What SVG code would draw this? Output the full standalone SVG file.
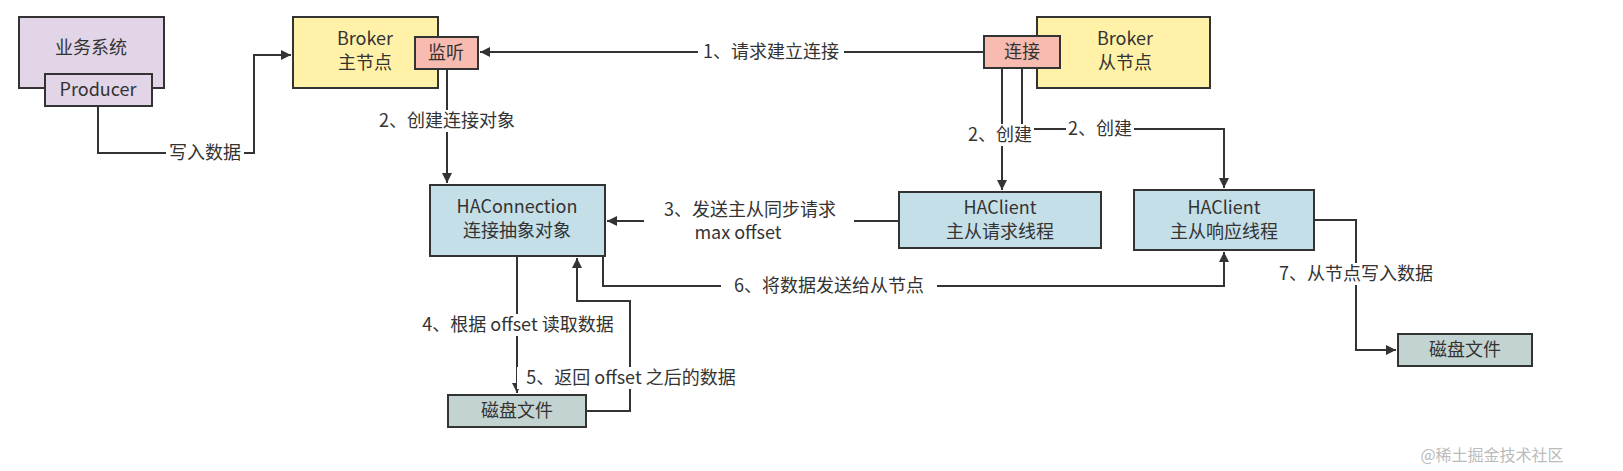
<svg xmlns="http://www.w3.org/2000/svg" width="1623" height="471" viewBox="0 0 1623 471">
<style>
text{font-family:"Noto Sans CJK SC","Noto Sans",sans-serif;font-size:18px;fill:#333;text-anchor:middle}
.n{stroke:#333;stroke-width:2}
.c path{fill:none;stroke:#333;stroke-width:2}
.lb{fill:#fff}
</style>
<defs><marker id="a" viewBox="0 0 10 10" refX="10" refY="5" markerWidth="10" markerHeight="10" markerUnits="userSpaceOnUse" orient="auto"><path d="M0,0L10,5L0,10z" fill="#333"/></marker></defs>
<rect width="1623" height="471" fill="#fff"/>
<g class="c">
<path d="M98,106V153H254V55H291" marker-end="url(#a)"/>
<path d="M984,52H480" marker-end="url(#a)"/>
<path d="M447,69V183" marker-end="url(#a)"/>
<path d="M1002,68V190" marker-end="url(#a)"/>
<path d="M1022,68V129H1224V188" marker-end="url(#a)"/>
<path d="M899,221H607" marker-end="url(#a)"/>
<path d="M517,256V393" marker-end="url(#a)"/>
<path d="M586,411H630V301H577V258" marker-end="url(#a)"/>
<path d="M603,256V286H1224V252" marker-end="url(#a)"/>
<path d="M1314,220H1356V350H1396" marker-end="url(#a)"/>
</g>
<g id="biz"><rect class="n" x="19" y="17" width="145" height="71" fill="#e1d5e7"/><text x="91" y="54">业务系统</text></g>
<g id="producer"><rect class="n" x="45" y="74" width="107" height="32" fill="#e1d5e7"/><text x="98" y="96">Producer</text></g>
<g id="master"><rect class="n" x="293" y="17" width="145" height="71" fill="#fff2a8"/><text x="365" y="45">Broker</text><text x="365" y="69">主节点</text></g>
<g id="listen"><rect class="n" x="415" y="37" width="63" height="32" fill="#f8bbb0"/><text x="446" y="59">监听</text></g>
<g id="slave"><rect class="n" x="1037" y="17" width="173" height="71" fill="#fff2a8"/><text x="1125" y="45">Broker</text><text x="1125" y="69">从节点</text></g>
<g id="connect"><rect class="n" x="984" y="36" width="76" height="32" fill="#f8bbb0"/><text x="1022" y="58">连接</text></g>
<g id="hac"><rect class="n" x="430" y="185" width="175" height="71" fill="#c5dfe8"/><text x="517" y="213">HAConnection</text><text x="517" y="237">连接抽象对象</text></g>
<g id="hc1"><rect class="n" x="899" y="192" width="202" height="56" fill="#c5dfe8"/><text x="1000" y="214">HAClient</text><text x="1000" y="238">主从请求线程</text></g>
<g id="hc2"><rect class="n" x="1134" y="190" width="180" height="60" fill="#c5dfe8"/><text x="1224" y="214">HAClient</text><text x="1224" y="238">主从响应线程</text></g>
<g id="disk1"><rect class="n" x="448" y="395" width="138" height="32" fill="#c3d3d1"/><text x="517" y="417">磁盘文件</text></g>
<g id="disk2"><rect class="n" x="1398" y="334" width="134" height="32" fill="#c3d3d1"/><text x="1465" y="356">磁盘文件</text></g>
<g id="labels">
<rect class="lb" x="166" y="142" width="78" height="22"/><text x="205" y="159">写入数据</text>
<rect class="lb" x="698" y="41" width="146" height="22"/><text x="771" y="58">1、请求建立连接</text>
<rect class="lb" x="378" y="110" width="138" height="22"/><text x="447" y="127">2、创建连接对象</text>
<rect class="lb" x="966" y="124" width="68" height="22"/><text x="1000" y="141">2、创建</text>
<rect class="lb" x="1066" y="118" width="68" height="22"/><text x="1100" y="135">2、创建</text>
<rect class="lb" x="644" y="199" width="210" height="44"/><text x="750" y="216">3、发送主从同步请求</text><text x="738" y="239">max offset</text>
<rect class="lb" x="412" y="314" width="212" height="22"/><text x="518" y="331">4、根据 offset 读取数据</text>
<rect class="lb" x="517" y="367" width="230" height="22"/><text x="631" y="384">5、返回 offset 之后的数据</text>
<rect class="lb" x="721" y="275" width="216" height="22"/><text x="829" y="292">6、将数据发送给从节点</text>
<rect class="lb" x="1276" y="263" width="164" height="22"/><text x="1356" y="280">7、从节点写入数据</text>
<text x="1492" y="461" style="fill:#bbb;font-size:16px">@稀土掘金技术社区</text>
</g>
</svg>
